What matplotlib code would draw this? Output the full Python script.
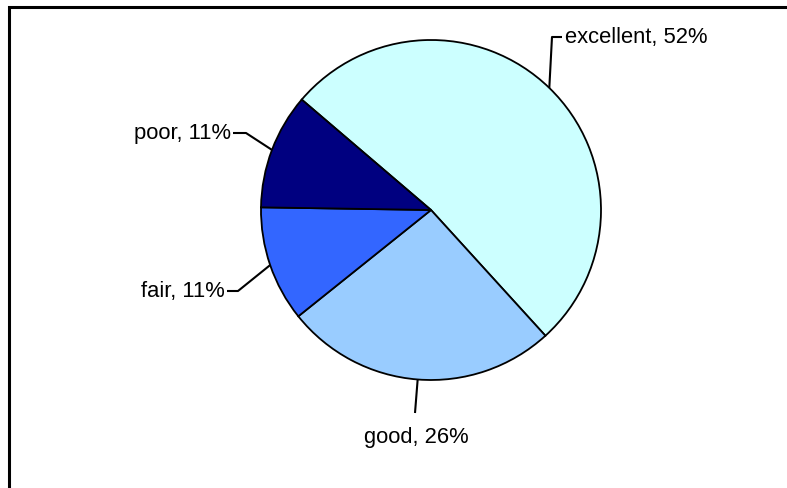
import numpy as np
import matplotlib
matplotlib.use("Agg")
import matplotlib.pyplot as plt

# Survey ratings
categories = ["excellent", "good", "fair", "poor"]
shares = [52, 26, 11, 11]
colors = ["#CCFFFF", "#99CCFF", "#3366FF", "#000080"]

W, H = 787, 488
fig = plt.figure(figsize=(W / 100, H / 100), dpi=100)
ax = fig.add_axes([0, 0, 1, 1])

cx, cy, r = 431, H - 210, 170
start = 139.5
wedges, _ = ax.pie(shares, colors=colors, startangle=start, counterclock=False,
                   center=(cx, cy), radius=r, frame=True,
                   wedgeprops=dict(edgecolor="black", linewidth=1.3))
ax.set_xlim(0, W)
ax.set_ylim(0, H)
ax.set_aspect("equal")
ax.axis("off")

font = dict(family=["Liberation Sans", "DejaVu Sans"], fontsize=15.8, color="black")

# label layout: (elbow point, end of short tick, text anchor, horizontal alignment)
layout = {
    "excellent": ((552, H - 37), (562, H - 37), (565, H - 38), "left"),
    "poor": ((246, H - 133), (233, H - 133), (231, H - 134), "right"),
    "fair": ((238, H - 291), (227, H - 291), (225, H - 292), "right"),
    "good": ((415, H - 413), None, (416, H - 437), "center"),
}

for w, name, val in zip(wedges, categories, shares):
    mid = np.deg2rad((w.theta1 + w.theta2) / 2)
    ex, ey = cx + r * np.cos(mid), cy + r * np.sin(mid)
    elbow, end, tpos, ha = layout[name]
    xs, ys = [ex, elbow[0]], [ey, elbow[1]]
    if end is not None:
        xs.append(end[0])
        ys.append(end[1])
    ax.plot(xs, ys, color="black", linewidth=1.5, solid_capstyle="butt")
    ax.text(tpos[0], tpos[1], f"{name}, {val}%", ha=ha, va="center", **font)

# outer frame
ax.plot([9, 9, W + 10], [-10, H - 7, H - 7], color="black", linewidth=2.2,
        clip_on=False, solid_joinstyle="miter")

fig.savefig("out.png", dpi=100)
